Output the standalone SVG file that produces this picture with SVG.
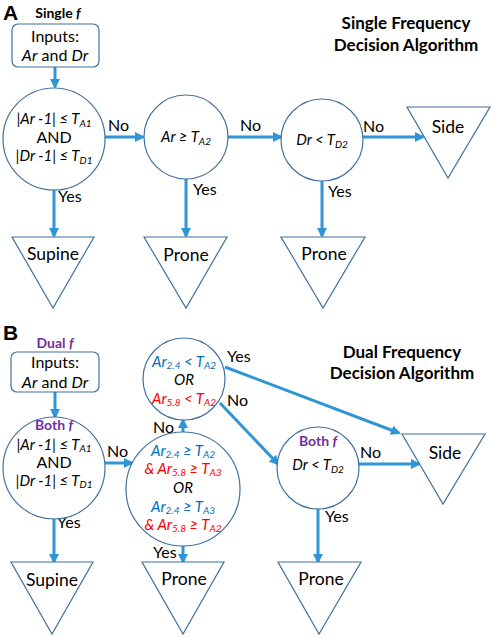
<svg xmlns="http://www.w3.org/2000/svg" width="498" height="637" viewBox="0 0 498 637">
<style>
text{font-family:Lato,"Liberation Sans",sans-serif;fill:#000}
.shape{fill:#fff;stroke:#41719C;stroke-width:1.2}
.arr{stroke:#2F95D6;stroke-width:3;fill:none}
.lbl{font-size:16px}
.cond{font-size:15px;font-style:italic}
.up{font-size:16px}
.term{font-size:17.5px}
.title{font-size:17px;font-weight:bold}
.panel{font-size:21px;font-weight:bold;font-family:"Liberation Sans",Arial,sans-serif}
.small{font-size:14px;font-weight:bold}
.purple{fill:#7030A0}
.blue{fill:#0070C0}
.red{fill:#FF0000}
.sub{font-size:10px}
.c{text-anchor:middle}
</style>
<defs>
<marker id="ah" markerUnits="userSpaceOnUse" markerWidth="10" markerHeight="10" refX="8" refY="5" orient="auto">
<path d="M0,0 L10,5 L0,10 z" fill="#2F95D6"/>
</marker>
</defs>

<!-- Panel A -->
<text class="panel" x="3" y="20">A</text>
<text class="small c" x="58" y="18">Single <tspan font-style="italic">f</tspan></text>
<text class="title c" x="406" y="29">Single Frequency</text>
<text class="title c" x="406" y="51">Decision Algorithm</text>

<g id="connectors-a">
<line class="arr" x1="55" y1="67" x2="55" y2="87" marker-end="url(#ah)"/>
<line class="arr" x1="105" y1="137" x2="143" y2="137" marker-end="url(#ah)"/>
<line class="arr" x1="228" y1="137" x2="281" y2="137" marker-end="url(#ah)"/>
<line class="arr" x1="363" y1="137" x2="423" y2="137" marker-end="url(#ah)"/>
<line class="arr" x1="54" y1="190" x2="54" y2="236" marker-end="url(#ah)"/>
<line class="arr" x1="186" y1="179" x2="186" y2="236" marker-end="url(#ah)"/>
<line class="arr" x1="322" y1="181" x2="322" y2="236" marker-end="url(#ah)"/>
<text class="up" x="108" y="131">No</text>
<text class="up" x="240" y="131">No</text>
<text class="up" x="363" y="132">No</text>
<text class="up" x="58" y="202">Yes</text>
<text class="up" x="193" y="195">Yes</text>
<text class="up" x="328" y="197">Yes</text>
</g>

<g id="a-input">
<rect class="shape" x="12" y="24" width="87" height="43" rx="6"/>
<text class="lbl c" x="55" y="42">Inputs:</text>
<text class="lbl c" x="55" y="61"><tspan font-style="italic">Ar</tspan> and <tspan font-style="italic">Dr</tspan></text>
</g>
<g id="a-cond1">
<circle class="shape" cx="54" cy="139" r="51"/>
<text class="cond c" x="54" y="124">|Ar -1| ≤ T<tspan class="sub" dy="3">A1</tspan></text>
<text class="lbl c" x="54" y="143" font-size="15">AND</text>
<text class="cond c" x="54" y="161">|Dr -1| ≤ T<tspan class="sub" dy="3">D1</tspan></text>
</g>
<g id="a-cond2">
<circle class="shape" cx="186" cy="137" r="42"/>
<text class="cond c" x="186" y="142">Ar ≥ T<tspan class="sub" dy="3">A2</tspan></text>
</g>
<g id="a-cond3">
<circle class="shape" cx="322" cy="140" r="41"/>
<text class="cond c" x="322" y="145">Dr &lt; T<tspan class="sub" dy="3">D2</tspan></text>
</g>
<g id="a-side">
<polygon class="shape" points="407,107 490,107 448,178"/>
<text class="term c" x="448" y="133">Side</text>
</g>
<g id="a-supine">
<polygon class="shape" points="12,237 94,237 53,308"/>
<text class="term c" x="53" y="260">Supine</text>
</g>
<g id="a-prone1">
<polygon class="shape" points="144,237 227,237 186,308"/>
<text class="term c" x="186" y="261">Prone</text>
</g>
<g id="a-prone2">
<polygon class="shape" points="281,237 365,237 323,308"/>
<text class="term c" x="324" y="260">Prone</text>
</g>

<!-- Panel B -->
<text class="panel" x="3" y="340">B</text>
<text class="small c purple" x="55" y="348">Dual <tspan font-style="italic">f</tspan></text>
<text class="title c" x="402" y="358">Dual Frequency</text>
<text class="title c" x="402" y="379">Decision Algorithm</text>

<g id="connectors-b">
<line class="arr" x1="55" y1="392" x2="55" y2="417" marker-end="url(#ah)"/>
<line class="arr" x1="105" y1="463" x2="132" y2="463" marker-end="url(#ah)"/>
<line class="arr" x1="183" y1="432" x2="183" y2="420" marker-end="url(#ah)"/>
<line class="arr" x1="225" y1="367" x2="399" y2="433" marker-end="url(#ah)"/>
<line class="arr" x1="220" y1="403" x2="278" y2="464" marker-end="url(#ah)"/>
<line class="arr" x1="359" y1="464" x2="419" y2="464" marker-end="url(#ah)"/>
<line class="arr" x1="54" y1="519" x2="54" y2="562" marker-end="url(#ah)"/>
<line class="arr" x1="183" y1="546" x2="183" y2="562" marker-end="url(#ah)"/>
<line class="arr" x1="318" y1="509" x2="318" y2="562" marker-end="url(#ah)"/>
<text class="up" x="107" y="457">No</text>
<text class="up" x="153" y="433">No</text>
<text class="up" x="227" y="362">Yes</text>
<text class="up" x="227" y="406">No</text>
<text class="up" x="360" y="458">No</text>
<text class="up" x="57" y="528">Yes</text>
<text class="up" x="153" y="558">Yes</text>
<text class="up" x="325" y="522">Yes</text>
</g>

<g id="b-input">
<rect class="shape" x="11" y="352" width="88" height="40" rx="6"/>
<text class="lbl c" x="55" y="368">Inputs:</text>
<text class="lbl c" x="55" y="388"><tspan font-style="italic">Ar</tspan> and <tspan font-style="italic">Dr</tspan></text>
</g>
<g id="b-cond1">
<circle class="shape" cx="54" cy="468" r="51"/>
<text class="small c purple" x="54" y="430">Both <tspan font-style="italic">f</tspan></text>
<text class="cond c" x="54" y="450" font-size="14">|Ar -1| ≤ T<tspan class="sub" dy="2">A1</tspan></text>
<text class="lbl c" x="54" y="468" font-size="14">AND</text>
<text class="cond c" x="54" y="486" font-size="14">|Dr -1| ≤ T<tspan class="sub" dy="2">D1</tspan></text>
</g>
<g id="b-cond2">
<circle class="shape" cx="183" cy="489" r="57"/>
<text class="cond c blue" x="183" y="456">Ar<tspan class="sub" dy="2">2.4</tspan><tspan dy="-2"> ≥ T</tspan><tspan class="sub" dy="2">A2</tspan></text>
<text class="cond c red" x="183" y="474">&amp; Ar<tspan class="sub" dy="2">5.8</tspan><tspan dy="-2"> ≥ T</tspan><tspan class="sub" dy="2">A3</tspan></text>
<text class="cond c" x="183" y="493">OR</text>
<text class="cond c blue" x="183" y="512">Ar<tspan class="sub" dy="2">2.4</tspan><tspan dy="-2"> ≥ T</tspan><tspan class="sub" dy="2">A3</tspan></text>
<text class="cond c red" x="183" y="530">&amp; Ar<tspan class="sub" dy="2">5.8</tspan><tspan dy="-2"> ≥ T</tspan><tspan class="sub" dy="2">A2</tspan></text>
</g>
<g id="b-cond3">
<circle class="shape" cx="184" cy="379" r="41"/>
<text class="cond c blue" x="184" y="367">Ar<tspan class="sub" dy="2">2.4</tspan><tspan dy="-2"> &lt; T</tspan><tspan class="sub" dy="2">A2</tspan></text>
<text class="cond c" x="184" y="385">OR</text>
<text class="cond c red" x="184" y="404">Ar<tspan class="sub" dy="2">5.8</tspan><tspan dy="-2"> &lt; T</tspan><tspan class="sub" dy="2">A2</tspan></text>
</g>
<g id="b-cond4">
<circle class="shape" cx="318" cy="468" r="41"/>
<text class="small c purple" x="318" y="446">Both <tspan font-style="italic">f</tspan></text>
<text class="cond c" x="318" y="470">Dr &lt; T<tspan class="sub" dy="3">D2</tspan></text>
</g>
<g id="b-side">
<polygon class="shape" points="402,434 485,434 443,504"/>
<text class="term c" x="445" y="459">Side</text>
</g>
<g id="b-supine">
<polygon class="shape" points="11,562 93,562 52,634"/>
<text class="term c" x="52" y="586">Supine</text>
</g>
<g id="b-prone1">
<polygon class="shape" points="142,562 224,562 183,634"/>
<text class="term c" x="184" y="585">Prone</text>
</g>
<g id="b-prone2">
<polygon class="shape" points="278,562 361,562 319,634"/>
<text class="term c" x="321" y="585">Prone</text>
</g>
</svg>
